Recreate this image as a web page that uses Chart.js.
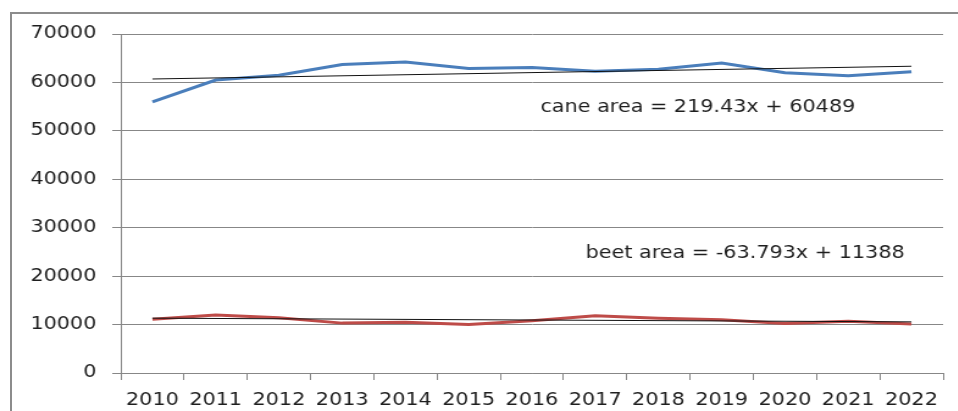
<!DOCTYPE html>
<html>
<head>
<meta charset="utf-8">
<script src="https://cdn.jsdelivr.net/npm/chart.js@4"></script>
<style>
  html, body { margin: 0; padding: 0; background: #fff; overflow: hidden; width: 958px; height: 411px; }
  #wrap { position: absolute; left: 0; top: 0; width: 785px; height: 411px; transform: scaleX(1.22); transform-origin: 0 0; }
  #frame { position: absolute; left: 10px; top: 12px; width: 1000px; height: 500px; border-left: 2px solid #8c8c8c; border-top: 2px solid #8c8c8c; box-sizing: border-box; pointer-events: none; }
</style>
</head>
<body>
<div id="wrap"><canvas id="c" width="785" height="411"></canvas></div>
<div id="frame"></div>
<script>
const years = ['2010','2011','2012','2013','2014','2015','2016','2017','2018','2019','2020','2021','2022'];
const caneArea = [56000, 60500, 61500, 63700, 64200, 62900, 63100, 62300, 62700, 64000, 62000, 61400, 62200];
const beetArea = [11100, 12000, 11400, 10300, 10500, 10000, 10800, 11800, 11300, 11000, 10200, 10700, 10100];
// trend line end values (from the equations shown on the chart, x = 1 and x = 13)
const caneTrend = [60708, null, null, null, null, null, null, null, null, null, null, null, 63342];
const beetTrend = [11324, null, null, null, null, null, null, null, null, null, null, null, 10559];
const yTicks = [0, 10000, 20000, 30000, 40000, 50000, 60000, 70000];
const caneLabel = 'cane area = 219.43x + 60489';
const beetLabel = 'beet area = -63.793x + 11388';

const FONT = 'DejaVu Sans';
const TXT = '#1e1e1e';
const GRID = '#878787';

const labelPlugin = {
  id: 'eqLabels',
  afterDraw(chart) {
    const ctx = chart.ctx;
    ctx.save();
    ctx.font = '17px "' + FONT + '"';
    ctx.fillStyle = TXT;
    ctx.textBaseline = 'middle';
    ctx.textAlign = 'left';
    ctx.fillText(caneLabel, 443, 108);
    ctx.fillText(beetLabel, 480, 254);
    ctx.restore();
  }
};

new Chart(document.getElementById('c'), {
  type: 'line',
  data: {
    labels: years,
    datasets: [
      { data: caneTrend, borderColor: '#111111', borderWidth: 1, pointRadius: 0, spanGaps: true, order: 0 },
      { data: beetTrend, borderColor: '#111111', borderWidth: 1, pointRadius: 0, spanGaps: true, order: 0 },
      { data: caneArea, borderColor: '#4a7ebb', borderWidth: 3, pointRadius: 0, tension: 0, order: 1 },
      { data: beetArea, borderColor: '#be4b48', borderWidth: 3, pointRadius: 0, tension: 0, order: 1 }
    ]
  },
  options: {
    responsive: false,
    animation: false,
    devicePixelRatio: 1,
    layout: { padding: { top: 34, left: 0, right: 12, bottom: 0 } },
    plugins: { legend: { display: false }, tooltip: { enabled: false } },
    scales: {
      x: {
        type: 'category',
        offset: true,
        grid: { offset: true, drawOnChartArea: false, drawTicks: true, tickLength: 7, color: GRID },
        border: { color: GRID, width: 1 },
        ticks: { color: TXT, font: { family: FONT, size: 17 }, padding: 10, maxRotation: 0, autoSkip: false },
        afterFit(s) { s.height = 38; }
      },
      y: {
        min: 0, max: 70000,
        afterBuildTicks(s) { s.ticks = yTicks.map(v => ({ value: v })); },
        grid: { color: GRID, tickLength: 7, drawTicks: true },
        border: { color: GRID, width: 1 },
        ticks: { color: TXT, font: { family: FONT, size: 17 }, padding: 13, callback: v => String(v) },
        afterFit(s) { s.width = 99; }
      }
    }
  },
  plugins: [labelPlugin]
});
</script>
</body>
</html>
